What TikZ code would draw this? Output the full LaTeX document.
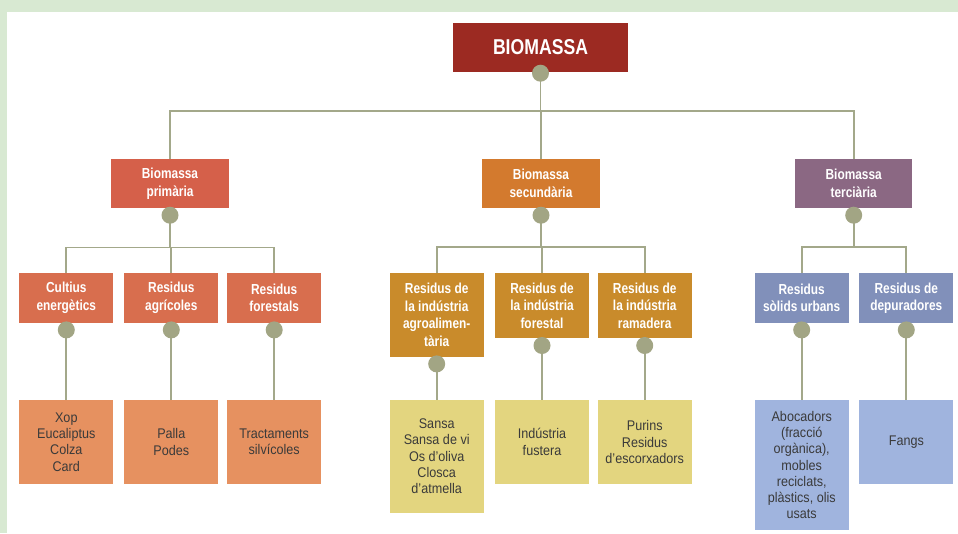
\documentclass[tikz,border=0pt]{standalone}
\usepackage{fontspec}
\setmainfont{Liberation Sans}[FakeStretch=0.9]
\newfontfamily\condb{Liberation Sans}[FakeStretch=0.82]
\usetikzlibrary{calc}
\definecolor{cBg}{HTML}{D8E9D2}
\definecolor{cRoot}{HTML}{9C2A22}
\definecolor{cP}{HTML}{D5604A}
\definecolor{cPa}{HTML}{D86E4E}
\definecolor{cPb}{HTML}{E69160}
\definecolor{cS}{HTML}{D37A2E}
\definecolor{cSa}{HTML}{C98B2B}
\definecolor{cSb}{HTML}{E3D57F}
\definecolor{cT}{HTML}{8B6883}
\definecolor{cTa}{HTML}{8190BA}
\definecolor{cTb}{HTML}{A0B4DE}
\definecolor{cDot}{HTML}{A2A584}
\definecolor{cLine}{HTML}{A3A88A}
\definecolor{cTxt}{HTML}{3A3A3A}
\begin{document}
\begin{tikzpicture}[x=1pt,y=-1pt,
  box/.style={draw=none, inner sep=0pt, align=center, text=white},
  lvlone/.style={box, fill=cRoot, minimum width=175pt, minimum height=49pt, font=\condb\fontsize{21.5}{24}\selectfont\bfseries},
  lvltwo/.style={box, minimum width=117.5pt, minimum height=49pt, font=\condb\fontsize{14.5}{17.5}\selectfont\bfseries},
  lvlthree/.style={box, minimum width=94pt, font=\condb\fontsize{14.5}{17.5}\selectfont\bfseries},
  lvlfour/.style={box, minimum width=94pt, text=cTxt, font=\fontsize{14}{16.3}\selectfont},
  dotnode/.style={circle, fill=cDot, inner sep=0pt, minimum size=17pt},
  conn/.style={draw=cLine, line width=1.8pt}]
\useasboundingbox (0,0) rectangle (958,533);
\fill[cBg] (0,0) rectangle (958,533);
\fill[white] (7,12) rectangle (958,533);

% root
\node[lvlone] (root) at (540.5,47.5) {BIOMASSA};
% level 2
\node[lvltwo, fill=cP] (p) at (170,183.5) {Biomassa\\primària};
\node[lvltwo, fill=cS] (s) at (541,183.5) {Biomassa\\secundària};
\node[lvltwo, fill=cT] (t) at (853.7,183.5) {Biomassa\\terciària};
% level 3
\node[lvlthree, fill=cPa, minimum height=49.4pt] (p1) at (66.3,298) {Cultius\\energètics};
\node[lvlthree, fill=cPa, minimum height=49.4pt] (p2) at (171.3,298) {Residus\\agrícoles};
\node[lvlthree, fill=cPa, minimum height=49.4pt] (p3) at (274.2,298) {Residus\\forestals};
\node[lvlthree, fill=cSa, minimum height=83.4pt] (s1) at (436.7,315) {Residus de\\la indústria\\agroalimen-\\tària};
\node[lvlthree, fill=cSa, minimum height=65pt] (s2) at (542,305.8) {Residus de\\la indústria\\forestal};
\node[lvlthree, fill=cSa, minimum height=65pt] (s3) at (644.7,305.8) {Residus de\\la indústria\\ramadera};
\node[lvlthree, fill=cTa, minimum height=49.4pt] (t1) at (801.7,298) {Residus\\sòlids urbans};
\node[lvlthree, fill=cTa, minimum height=49.4pt] (t2) at (906.3,298) {Residus de\\depuradores};
% level 4
\node[lvlfour, fill=cPb, minimum height=84pt] (q1) at (66.3,442) {Xop\\Eucaliptus\\Colza\\Card};
\node[lvlfour, fill=cPb, minimum height=84pt] (q2) at (171.3,442) {Palla\\Podes};
\node[lvlfour, fill=cPb, minimum height=84pt] (q3) at (274.2,442) {Tractaments\\silvícoles};
\node[lvlfour, fill=cSb, minimum height=112.7pt] (r1) at (436.7,456.3) {Sansa\\Sansa de vi\\Os d’oliva\\Closca\\d’atmella};
\node[lvlfour, fill=cSb, minimum height=84pt] (r2) at (542,442) {Indústria\\fustera};
\node[lvlfour, fill=cSb, minimum height=84pt] (r3) at (644.7,442) {Purins\\Residus\\d’escorxadors};
\node[lvlfour, fill=cTb, minimum height=130pt] (u1) at (801.7,465) {Abocadors\\(fracció\\orgànica),\\mobles\\reciclats,\\plàstics, olis\\usats};
\node[lvlfour, fill=cTb, minimum height=84pt] (u2) at (906.3,442) {Fangs};

% dot coordinates
\coordinate (d0) at ($(root.south)+(0,1)$);
\foreach \n in {p,s,t,p1,p2,p3,s1,s2,s3,t1,t2}{
  \coordinate (d\n) at ($(\n.south)+(0,7)$);
}
\coordinate (bus0) at (540.5,111);
\coordinate (busp) at (170,247.5);
\coordinate (buss) at (541,247);
\coordinate (bust) at (853.7,247);

% connectors
\draw[conn] (d0) -- (bus0);
\draw[conn] (p.north) -- (p.north |- bus0) -- (t.north |- bus0) -- (t.north);
\draw[conn] (s.north) -- (s.north |- bus0);
\draw[conn] (dp) -- (busp);
\draw[conn] (p1.north) -- (p1.north |- busp) -- (p3.north |- busp) -- (p3.north);
\draw[conn] (p2.north) -- (p2.north |- busp);
\draw[conn] (ds) -- (buss);
\draw[conn] (s1.north) -- (s1.north |- buss) -- (s3.north |- buss) -- (s3.north);
\draw[conn] (s2.north) -- (s2.north |- buss);
\draw[conn] (dt) -- (bust);
\draw[conn] (t1.north) -- (t1.north |- bust) -- (t2.north |- bust) -- (t2.north);
\draw[conn] (dp1) -- (q1.north);
\draw[conn] (dp2) -- (q2.north);
\draw[conn] (dp3) -- (q3.north);
\draw[conn] (ds1) -- (r1.north);
\draw[conn] (ds2) -- (r2.north);
\draw[conn] (ds3) -- (r3.north);
\draw[conn] (dt1) -- (u1.north);
\draw[conn] (dt2) -- (u2.north);

% dots
\foreach \n in {0,p,s,t,p1,p2,p3,s1,s2,s3,t1,t2}{
  \node[dotnode] (dot\n) at (d\n) {};
}
\end{tikzpicture}
\end{document}
